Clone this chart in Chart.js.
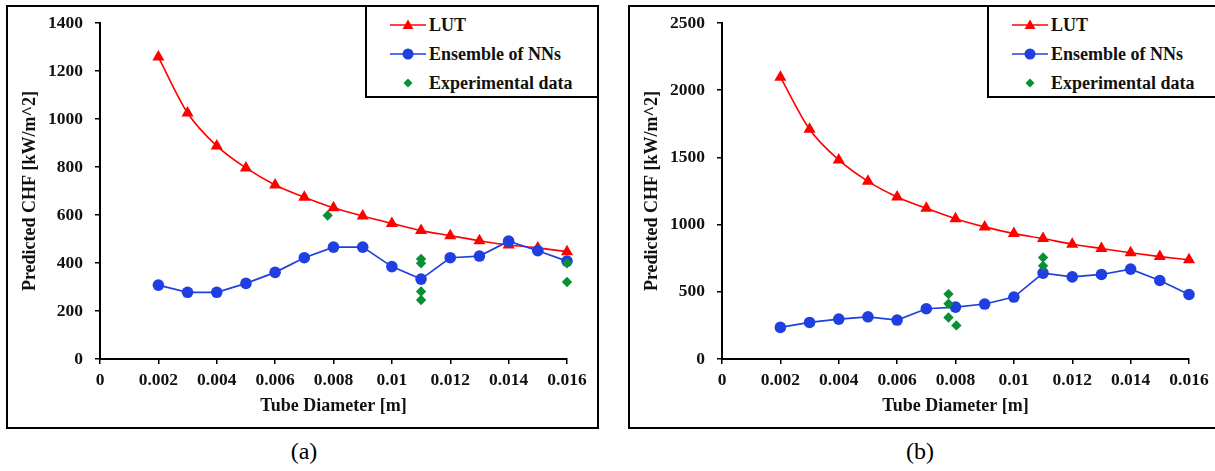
<!DOCTYPE html>
<html>
<head>
<meta charset="utf-8">
<script src="https://cdn.jsdelivr.net/npm/chart.js@4.4.0/dist/chart.umd.min.js"></script>
<style>
  body { margin: 0; width: 1215px; height: 471px; background: #fff; overflow: hidden; position: relative;
         font-family: 'Liberation Serif', 'Times New Roman', serif; }
  .panel { position: absolute; top: 5px; width: 593px; height: 424px; border: 2px solid #000; box-sizing: border-box; }
  .panel canvas { position: absolute; left: 0; top: 0; }
  .legend { position: absolute; top: -2px; right: -2px; width: 234px; height: 93px; border: 2px solid #000;
            box-sizing: border-box; background: #fff; }
  .legend .row { position: absolute; left: 23px; height: 20px; }
  .legend svg { position: absolute; left: 0; top: 3px; }
  .legend span { position: absolute; left: 39px; top: 0; white-space: nowrap; font-weight: bold; font-size: 18px; line-height: 20px; color: #111; }
  .caption { position: absolute; top: 436px; width: 100px; text-align: center; font-size: 24px; line-height: 30px; color: #000; }
</style>
</head>
<body>

<div class="panel" style="left:6px">
  <canvas id="chartA" width="589" height="420"></canvas>
  <div class="legend" id="legendA"></div>
</div>
<div class="panel" style="left:628px">
  <canvas id="chartB" width="589" height="420"></canvas>
  <div class="legend" id="legendB"></div>
</div>
<div class="caption" style="left:254px">(a)</div>
<div class="caption" style="left:870px">(b)</div>

<script>
// tube diameters [m], same for both panels
const diameters = [0.002, 0.003, 0.004, 0.005, 0.006, 0.007, 0.008, 0.009, 0.010, 0.011, 0.012, 0.013, 0.014, 0.015, 0.016];

// panel (a)
const lutA = [1258, 1025, 888, 796, 725, 674, 630, 596, 565, 535, 514, 493, 475, 463, 447];
const nnA = [308, 278, 278, 315, 361, 422, 466, 466, 385, 333, 422, 429, 491, 451, 408];
const expAx = [0.0078, 0.011, 0.011, 0.011, 0.011, 0.016, 0.016];
const expAy = [598, 417, 399, 281, 246, 399, 321];

// panel (b)
const lutB = [2097, 1709, 1481, 1322, 1206, 1121, 1044, 983, 933, 896, 854, 822, 790, 762, 738];
const nnB = [235, 272, 297, 314, 290, 374, 386, 409, 461, 639, 611, 629, 669, 584, 480];
const expBx = [0.00776, 0.00776, 0.00776, 0.00803, 0.011, 0.011];
const expBy = [483, 411, 309, 250, 755, 693];

const legendLabels = ['LUT', 'Ensemble of NNs', 'Experimental data'];

const RED = '#ff0000';
const BLUE = '#1f3fe0';
const GREEN = '#0b8f35';
const FONT = "'Liberation Serif', 'Times New Roman', serif";

function toPoints(xs, ys) {
    return xs.map((x, i) => ({ x: x, y: ys[i] }));
}

function buildChart(canvasId, lut, nn, expX, expY, yMax, yStep) {
    const ctx = document.getElementById(canvasId).getContext('2d');
    return new Chart(ctx, {
        type: 'scatter',
        data: {
            datasets: [
                {
                    label: legendLabels[2],
                    data: toPoints(expX, expY),
                    showLine: false,
                    pointStyle: 'rectRot',
                    pointRadius: 5.2,
                    backgroundColor: GREEN,
                    borderColor: GREEN,
                    borderWidth: 0,
                    clip: false
                },
                {
                    label: legendLabels[1],
                    data: toPoints(diameters, nn),
                    showLine: true,
                    tension: 0,
                    borderColor: BLUE,
                    backgroundColor: BLUE,
                    borderWidth: 1.7,
                    pointStyle: 'circle',
                    pointRadius: 5.8,
                    pointBorderWidth: 0,
                    clip: false
                },
                {
                    label: legendLabels[0],
                    data: toPoints(diameters, lut),
                    showLine: true,
                    tension: 0.4,
                    cubicInterpolationMode: 'monotone',
                    borderColor: RED,
                    backgroundColor: RED,
                    borderWidth: 1.6,
                    pointStyle: 'triangle',
                    pointRadius: 7,
                    pointBorderWidth: 0,
                    clip: false
                }
            ]
        },
        options: {
            responsive: false,
            animation: false,
            devicePixelRatio: 1,
            layout: { autoPadding: false, padding: { left: 8, right: 30, top: 16, bottom: 6 } },
            plugins: {
                legend: { display: false },
                tooltip: { enabled: false }
            },
            scales: {
                x: {
                    type: 'linear',
                    min: 0,
                    max: 0.016,
                    ticks: {
                        stepSize: 0.002,
                        color: '#111',
                        padding: 6,
                        maxRotation: 0,
                        autoSkip: false,
                        font: { family: FONT, size: 17.5, weight: 'bold' },
                        callback: (v) => String(+v.toFixed(3))
                    },
                    grid: { drawOnChartArea: false, tickLength: 5, color: '#000', lineWidth: 1.5 },
                    border: { color: '#000', width: 2 },
                    title: {
                        display: true,
                        text: 'Tube Diameter [m]',
                        color: '#111',
                        font: { family: FONT, size: 18, weight: 'bold' }
                    },
                    afterFit: (s) => { s.height = 62; s.paddingLeft = 0; s.paddingRight = 0; }
                },
                y: {
                    min: 0,
                    max: yMax,
                    ticks: {
                        stepSize: yStep,
                        color: '#111',
                        padding: 12,
                        font: { family: FONT, size: 17.5, weight: 'bold' },
                        callback: (v) => String(v)
                    },
                    grid: { drawOnChartArea: false, tickLength: 5, color: '#000', lineWidth: 1.5 },
                    border: { color: '#000', width: 2 },
                    title: {
                        display: true,
                        text: 'Predicted CHF [kW/m^2]',
                        color: '#111',
                        font: { family: FONT, size: 18, weight: 'bold' }
                    },
                    // fixed axis width; drop the label padding so the plot top stays where it should
                    afterFit: (s) => { s.width = 84; s.paddingTop = 0; s.paddingBottom = 0; }
                }
            }
        }
    });
}

function buildLegend(id) {
    const rows = [
        { top: 8, svg: '<line x1="0" y1="7" x2="36" y2="7" stroke="' + RED + '" stroke-width="1.6"/>' +
                       '<polygon points="18,1.5 23.5,11 12.5,11" fill="' + RED + '"/>' },
        { top: 37, svg: '<line x1="0" y1="7" x2="36" y2="7" stroke="' + BLUE + '" stroke-width="1.6"/>' +
                        '<circle cx="18" cy="7" r="5.5" fill="' + BLUE + '"/>' },
        { top: 66, svg: '<polygon points="18,2.5 22.5,7 18,11.5 13.5,7" fill="' + GREEN + '"/>' }
    ];
    const box = document.getElementById(id);
    rows.forEach((r, i) => {
        const row = document.createElement('div');
        row.className = 'row';
        row.style.top = r.top + 'px';
        row.innerHTML = '<svg width="36" height="14">' + r.svg + '</svg><span>' + legendLabels[i] + '</span>';
        box.appendChild(row);
    });
}

buildChart('chartA', lutA, nnA, expAx, expAy, 1400, 200);
buildChart('chartB', lutB, nnB, expBx, expBy, 2500, 500);
buildLegend('legendA');
buildLegend('legendB');
</script>
</body>
</html>
